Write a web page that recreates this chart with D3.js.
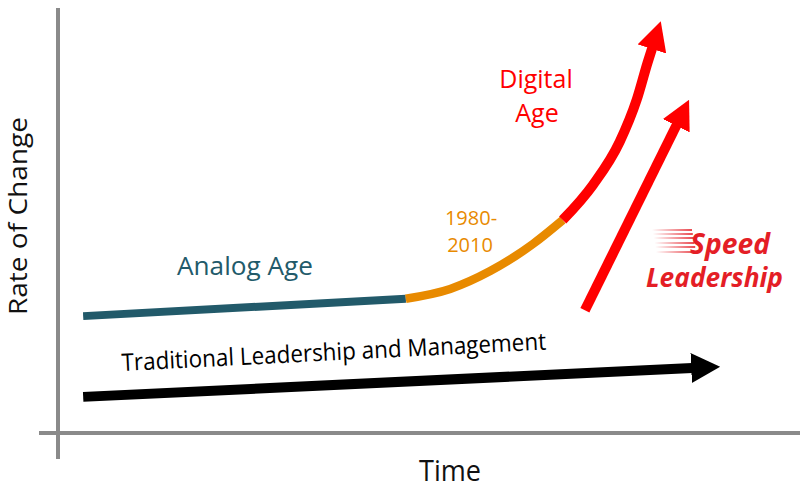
<!DOCTYPE html>
<html>
<head>
<meta charset="utf-8">
<script src="https://cdn.jsdelivr.net/npm/d3@7/dist/d3.min.js"></script>
<style>
  body { margin: 0; background: #fff; }
  svg { display: block; }
  text { font-family: "Open Sans", "Noto Sans", sans-serif; }
</style>
</head>
<body>
<div id="chart"></div>
<script>
// time (x) vs rate of change (y), both on a 0-100 scale
var analogAge = [
    { t: 3.4, r: 27.5 },
    { t: 47.0, r: 31.6 }
];
var transitionEra = [
    { t: 47.0, r: 31.6 },
    { t: 53.0, r: 33.9 },
    { t: 58.4, r: 38.1 },
    { t: 64.2, r: 44.5 },
    { t: 68.2, r: 50.1 }
];
var digitalAge = [
    { t: 68.2, r: 50.1 },
    { t: 72.3, r: 58.4 },
    { t: 75.9, r: 68.5 },
    { t: 78.2, r: 78.4 },
    { t: 79.7, r: 87.3 },
    { t: 80.3, r: 90.6 }
];
var speedLeadership = [
    { t: 71.2, r: 28.9 },
    { t: 83.6, r: 72.5 }
];
var traditional = [
    { t: 3.4, r: 8.5 },
    { t: 85.7, r: 15.3 }
];
var axisLabels = { x: 'Time', y: 'Rate of Change' };

var width = 800, height = 490;

var svg = d3.select('#chart')
    .append('svg')
    .attr('width', width)
    .attr('height', height);

var x = d3.scaleLinear().domain([0, 100]).range([58, 798]);
var y = d3.scaleLinear().domain([0, 100]).range([433, 8]);

var defs = svg.append('defs');

function addHead(id, color) {
    defs.append('marker')
        .attr('id', id)
        .attr('markerUnits', 'userSpaceOnUse')
        .attr('viewBox', '0 -15 29 30')
        .attr('markerWidth', 29)
        .attr('markerHeight', 30)
        .attr('refX', 1)
        .attr('refY', 0)
        .attr('orient', 'auto')
        .append('path')
        .attr('d', 'M0,-15L29,0L0,15Z')
        .attr('fill', color);
}
addHead('head-red', '#ff0000');
addHead('head-black', '#000000');

var grad = defs.append('linearGradient')
    .attr('id', 'speed-fade')
    .attr('x1', '0%').attr('x2', '100%');
grad.append('stop').attr('offset', '0%').attr('stop-color', '#e41e26').attr('stop-opacity', 0);
grad.append('stop').attr('offset', '100%').attr('stop-color', '#e41e26').attr('stop-opacity', 1);

// axes
var axisColor = '#8a8a8a';
svg.append('line')
    .attr('x1', x(0)).attr('x2', x(0))
    .attr('y1', y(100)).attr('y2', y(0) + 26)
    .attr('stroke', axisColor).attr('stroke-width', 4);
svg.append('line')
    .attr('x1', x(0) - 19).attr('x2', width)
    .attr('y1', y(0)).attr('y2', y(0))
    .attr('stroke', axisColor).attr('stroke-width', 4);

svg.append('text')
    .attr('transform', 'translate(27,216) rotate(-90)')
    .attr('text-anchor', 'middle')
    .attr('font-size', 26)
    .attr('textLength', 198)
    .attr('lengthAdjust', 'spacingAndGlyphs')
    .attr('fill', '#111')
    .text(axisLabels.y);

svg.append('text')
    .attr('x', 450).attr('y', 481)
    .attr('text-anchor', 'middle')
    .attr('font-size', 30)
    .attr('textLength', 62)
    .attr('lengthAdjust', 'spacingAndGlyphs')
    .attr('fill', '#111')
    .text(axisLabels.x);

var straight = d3.line()
    .x(function(d) { return x(d.t); })
    .y(function(d) { return y(d.r); });

var smooth = d3.line()
    .x(function(d) { return x(d.t); })
    .y(function(d) { return y(d.r); })
    .curve(d3.curveMonotoneX);

svg.append('path')
    .datum(traditional)
    .attr('d', straight)
    .attr('fill', 'none')
    .attr('stroke', '#000')
    .attr('stroke-width', 10)
    .attr('marker-end', 'url(#head-black)');

svg.append('path')
    .datum(analogAge)
    .attr('d', straight)
    .attr('fill', 'none')
    .attr('stroke', '#225a6a')
    .attr('stroke-width', 8);

svg.append('path')
    .datum(transitionEra)
    .attr('d', smooth)
    .attr('fill', 'none')
    .attr('stroke', '#e88a00')
    .attr('stroke-width', 8.5);

svg.append('path')
    .datum(digitalAge)
    .attr('d', smooth)
    .attr('fill', 'none')
    .attr('stroke', '#ff0000')
    .attr('stroke-width', 10)
    .attr('marker-end', 'url(#head-red)');

svg.append('path')
    .datum(speedLeadership)
    .attr('d', straight)
    .attr('fill', 'none')
    .attr('stroke', '#ff0000')
    .attr('stroke-width', 10)
    .attr('marker-end', 'url(#head-red)');

// labels
svg.append('text')
    .attr('x', 177).attr('y', 275)
    .attr('font-size', 26)
    .attr('textLength', 136)
    .attr('lengthAdjust', 'spacingAndGlyphs')
    .attr('fill', '#225a6a')
    .text('Analog Age');

var era = svg.append('text')
    .attr('font-size', 20)
    .attr('fill', '#e88a00')
    .attr('text-anchor', 'middle');
era.append('tspan').attr('x', 471).attr('y', 225).text('1980-');
era.append('tspan').attr('x', 470).attr('y', 252).text('2010');

var digital = svg.append('text')
    .attr('font-size', 25)
    .attr('fill', '#ff0000')
    .attr('text-anchor', 'middle');
digital.append('tspan').attr('x', 536).attr('y', 88).text('Digital');
digital.append('tspan').attr('x', 537).attr('y', 122).text('Age');

svg.append('text')
    .attr('transform', 'translate(122,371) rotate(-2.9)')
    .attr('font-size', 24)
    .attr('textLength', 425)
    .attr('lengthAdjust', 'spacingAndGlyphs')
    .attr('fill', '#000')
    .text('Traditional Leadership and Management');

// Speed Leadership logo
var speedLines = [230, 234, 238, 243, 247, 252];
svg.selectAll('.speed-line')
    .data(speedLines)
    .enter()
    .append('rect')
    .attr('class', 'speed-line')
    .attr('x', function(d, i) { return 652 + i * 0.8; })
    .attr('y', function(d) { return d - 0.8; })
    .attr('width', 40)
    .attr('height', 1.6)
    .attr('fill', 'url(#speed-fade)');

svg.append('text')
    .attr('x', 690).attr('y', 254)
    .attr('font-family', '"DejaVu Sans Condensed", "Liberation Sans Narrow", sans-serif')
    .attr('font-weight', 'bold')
    .attr('font-style', 'italic')
    .attr('font-size', 28)
    .attr('textLength', 80)
    .attr('lengthAdjust', 'spacingAndGlyphs')
    .attr('fill', '#e41e26')
    .text('Speed');

svg.append('text')
    .attr('x', 646).attr('y', 287)
    .attr('font-family', '"DejaVu Sans Condensed", "Liberation Sans Narrow", sans-serif')
    .attr('font-weight', 'bold')
    .attr('font-style', 'italic')
    .attr('font-size', 26)
    .attr('textLength', 137)
    .attr('lengthAdjust', 'spacingAndGlyphs')
    .attr('fill', '#e41e26')
    .text('Leadership');
</script>
</body>
</html>
